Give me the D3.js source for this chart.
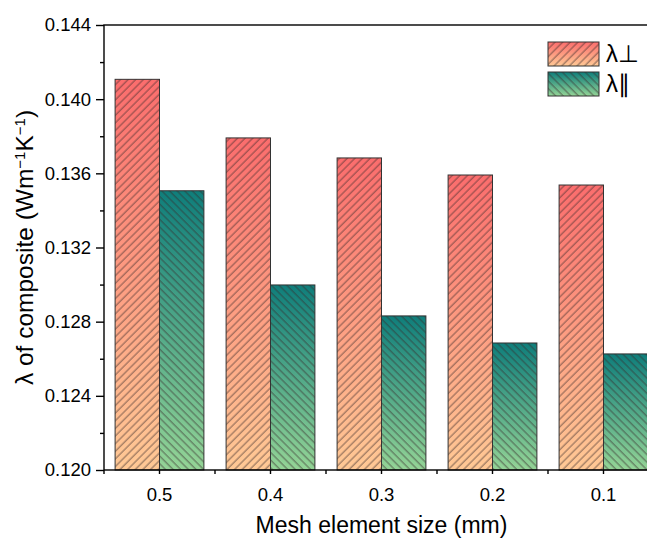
<!DOCTYPE html>
<html>
<head>
<meta charset="utf-8">
<script src="https://cdn.jsdelivr.net/npm/d3@7"></script>
<style>
  html, body { margin: 0; padding: 0; background: #fff; }
  svg { display: block; }
  text { font-family: "Liberation Sans", Arial, sans-serif; fill: #000; }
</style>
</head>
<body>
<svg id="chart" width="647" height="540"></svg>
<script>
// ---- data ----
const categories = ["0.5", "0.4", "0.3", "0.2", "0.1"];
const seriesNames = ["λ⊥", "λ∥"];
const perpValues = [0.14107, 0.13791, 0.13683, 0.13591, 0.13537];
const paraValues = [0.13506, 0.12998, 0.12831, 0.12685, 0.12626];
const yTickValues = [0.120, 0.124, 0.128, 0.132, 0.136, 0.140, 0.144];
const yMinorTickValues = [0.122, 0.126, 0.130, 0.134, 0.138, 0.142];
const xTitle = "Mesh element size (mm)";

const svg = d3.select("#chart");
const pLeft = 104, pTop = 25, pBottom = 470, bandW = 111;
const pRight = pLeft + categories.length * bandW;

const x0 = d3.scaleBand().domain(categories).range([pLeft, pRight]).padding(0);
const x1 = d3.scaleBand().domain(["perp", "para"]).range([0, x0.bandwidth()])
  .paddingInner(0).paddingOuter(0.25);
const y = d3.scaleLinear().domain([0.120, 0.144]).range([pBottom, pTop]);

// ---- defs: gradients and hatches ----
const defs = svg.append("defs");
function grad(id, c1, c2) {
  const g = defs.append("linearGradient").attr("id", id)
    .attr("x1", 0).attr("y1", 0).attr("x2", 0).attr("y2", 1);
  g.append("stop").attr("offset", "0%").attr("stop-color", c1);
  g.append("stop").attr("offset", "100%").attr("stop-color", c2);
}
grad("gRed", "#fb6d6d", "#ffc995");
grad("gGreen", "#0f7e7b", "#94d496");
function hatch(id, angle) {
  const p = defs.append("pattern").attr("id", id)
    .attr("patternUnits", "userSpaceOnUse")
    .attr("width", 5.4).attr("height", 10)
    .attr("patternTransform", `rotate(${angle})`);
  p.append("line").attr("x1", 1).attr("y1", 0).attr("x2", 1).attr("y2", 10)
    .attr("stroke", "#3a2a2a").attr("stroke-opacity", 0.75).attr("stroke-width", 0.9);
}
hatch("hFwd", 45);
hatch("hBack", -45);

// ---- bars ----
const rows = categories.map((c, i) => ({ c, perp: perpValues[i], para: paraValues[i] }));
const series = [
  { key: "perp", fill: "url(#gRed)", hatch: "url(#hFwd)" },
  { key: "para", fill: "url(#gGreen)", hatch: "url(#hBack)" }
];
const barsG = svg.append("g");
rows.forEach(r => {
  series.forEach(s => {
    const bx = x0(r.c) + x1(s.key), bw = x1.bandwidth();
    const by = y(r[s.key]), bh = y(0.120) - y(r[s.key]);
    barsG.append("rect").attr("x", bx).attr("y", by).attr("width", bw).attr("height", bh)
      .attr("fill", s.fill);
    barsG.append("rect").attr("x", bx).attr("y", by).attr("width", bw).attr("height", bh)
      .attr("fill", s.hatch).attr("stroke", "#333").attr("stroke-width", 1);
  });
});

// ---- axes ----
const axisColor = "#000";
svg.append("rect").attr("x", pLeft).attr("y", pTop).attr("width", pRight - pLeft).attr("height", pBottom - pTop)
  .attr("fill", "none").attr("stroke", axisColor).attr("stroke-width", 1.4);

const yAxis = svg.append("g").attr("transform", `translate(${pLeft},0)`)
  .call(d3.axisLeft(y).tickValues(yTickValues).tickFormat(d3.format(".3f")).tickSize(8).tickPadding(5));
yAxis.select(".domain").remove();
yAxis.selectAll("line").attr("stroke", axisColor).attr("stroke-width", 1.4);
yAxis.selectAll("text").style("font-size", "18.5px").style("font-family", "Liberation Sans, Arial, sans-serif");

const yMinor = svg.append("g").attr("transform", `translate(${pLeft},0)`)
  .call(d3.axisLeft(y).tickValues(yMinorTickValues).tickFormat("").tickSize(4));
yMinor.select(".domain").remove();
yMinor.selectAll("line").attr("stroke", axisColor).attr("stroke-width", 1.4);

const xAxis = svg.append("g").attr("transform", `translate(0,${pBottom})`)
  .call(d3.axisBottom(x0).tickSize(4).tickPadding(14));
xAxis.select(".domain").remove();
xAxis.selectAll("line").attr("stroke", axisColor).attr("stroke-width", 1.4);
xAxis.selectAll("text").style("font-size", "18.5px").style("font-family", "Liberation Sans, Arial, sans-serif");

const edges = d3.range(categories.length + 1).map(i => pLeft + i * bandW);
svg.append("g").selectAll("line").data(edges).join("line")
  .attr("x1", d => d).attr("x2", d => d).attr("y1", pBottom).attr("y2", pBottom + 4)
  .attr("stroke", axisColor).attr("stroke-width", 1.4);

// ---- titles ----
svg.append("text").attr("x", (pLeft + pRight) / 2).attr("y", 533)
  .attr("text-anchor", "middle").style("font-size", "23px").text(xTitle);

const yt = svg.append("text")
  .attr("transform", `translate(33,${(pTop + pBottom) / 2}) rotate(-90)`)
  .attr("text-anchor", "middle").style("font-size", "24.5px");
yt.append("tspan").text("λ of composite (Wm");
yt.append("tspan").attr("baseline-shift", "super").style("font-size", "15px").text("−1");
yt.append("tspan").text("K");
yt.append("tspan").attr("baseline-shift", "super").style("font-size", "15px").text("−1");
yt.append("tspan").text(")");

// ---- legend ----
const legend = svg.append("g");
series.forEach((s, i) => {
  const ly = 42 + i * 30;
  legend.append("rect").attr("x", 548).attr("y", ly).attr("width", 51).attr("height", 24).attr("fill", s.fill);
  legend.append("rect").attr("x", 548).attr("y", ly).attr("width", 51).attr("height", 24)
    .attr("fill", s.hatch).attr("stroke", "#333").attr("stroke-width", 1);
  legend.append("text").attr("x", 606).attr("y", ly + 20).style("font-size", "24px").text(seriesNames[i]);
});
</script>
</body>
</html>
